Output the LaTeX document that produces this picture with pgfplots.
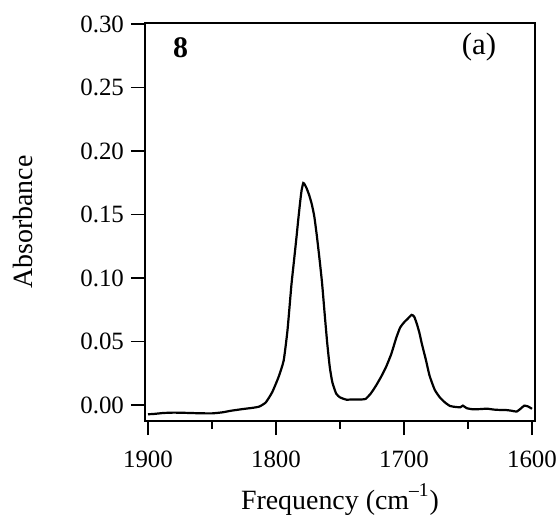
\documentclass[border=0pt]{standalone}
\usepackage{fontspec}
\setmainfont{Liberation Serif}
\usepackage{pgfplots}
\pgfplotsset{compat=1.18}
\pgfplotstableread{
f v
1900 -0.0073
1895 -0.0070
1888 -0.0063
1880 -0.0060
1870 -0.0062
1860 -0.0065
1850 -0.0066
1842 -0.0058
1835 -0.0045
1826 -0.0032
1818 -0.0022
1813 -0.0012
1808 0.0020
1803 0.0100
1798 0.0220
1794 0.0350
1791 0.0590
1788 0.0940
1786 0.1130
1784 0.1320
1782.5 0.1470
1781 0.1610
1780 0.1690
1778.7 0.1748
1777.5 0.1735
1776 0.1705
1774 0.1650
1772 0.1580
1770 0.1480
1768 0.1325
1766 0.1150
1764 0.0960
1762 0.0720
1760 0.0490
1758 0.0300
1756 0.0180
1753 0.0090
1750 0.0060
1745 0.0042
1740 0.0044
1735 0.0043
1730 0.0048
1726 0.0090
1722 0.0150
1718 0.0220
1714 0.0300
1710 0.0400
1706 0.0530
1703 0.0610
1700 0.0650
1697 0.0680
1694 0.0710
1692 0.0695
1690 0.0640
1688 0.0570
1686 0.0480
1683 0.0360
1680 0.0230
1676 0.0120
1672 0.0060
1668 0.0020
1664 -0.0008
1660 -0.0015
1656 -0.0018
1654 -0.0005
1651 -0.0025
1646 -0.0034
1640 -0.0032
1635 -0.0029
1630 -0.0036
1625 -0.0039
1620 -0.0040
1616 -0.0045
1612 -0.0052
1609 -0.0030
1606 -0.0005
1603 -0.0012
1600 -0.0030
}\spectrum
\begin{document}
\begin{tikzpicture}
\useasboundingbox (-72.5bp,-48bp) rectangle (207.5bp,210.5bp);
\begin{axis}[
  at={(0,0)}, anchor=south west,
  scale only axis,
  width=195bp, height=199bp,
  x dir=reverse,
  xmin=1597.66, xmax=1902.34,
  ymin=-0.0126, ymax=0.3008,
  axis line style={line width=0.9bp},
  xtick={1600,1700,1800,1900},
  minor xtick={1650,1750,1850},
  ytick={0,0.05,0.10,0.15,0.20,0.25,0.30},
  xtick pos=bottom, ytick pos=left,
  tick align=outside,
  major tick length=7bp,
  minor tick length=4bp,
  tick style={line width=0.9bp, black},
  /pgf/number format/assume math mode=true,
  xticklabel style={font=\fontsize{12.5}{14}\selectfont, yshift=-4.5bp, /pgf/number format/set thousands separator={}},
  yticklabel style={font=\fontsize{12.5}{14}\selectfont, /pgf/number format/fixed, /pgf/number format/fixed zerofill, /pgf/number format/precision=2},
  xlabel={Frequency (cm\textsuperscript{\raisebox{0.3ex}{–1}})},
  ylabel={Absorbance},
  xlabel style={font=\fontsize{14}{16}\selectfont, at={(axis description cs:0.5,-0.2236)}, anchor=base},
  ylabel style={font=\fontsize{14}{16}\selectfont, at={(axis description cs:-0.2872,0.5)}, anchor=base},
]
\addplot[black, line width=1.1bp, smooth, tension=0.3] table[x=f, y=v] {\spectrum};
\node[anchor=base west, inner sep=0pt, font=\fontsize{15}{17}\selectfont\bfseries] at (axis description cs:0.0709,0.9136) {8};
\node[anchor=base east, inner sep=0pt, font=\fontsize{15.5}{17}\selectfont] at (axis description cs:0.9015,0.921) {(a)};
\end{axis}
\end{tikzpicture}
\end{document}
